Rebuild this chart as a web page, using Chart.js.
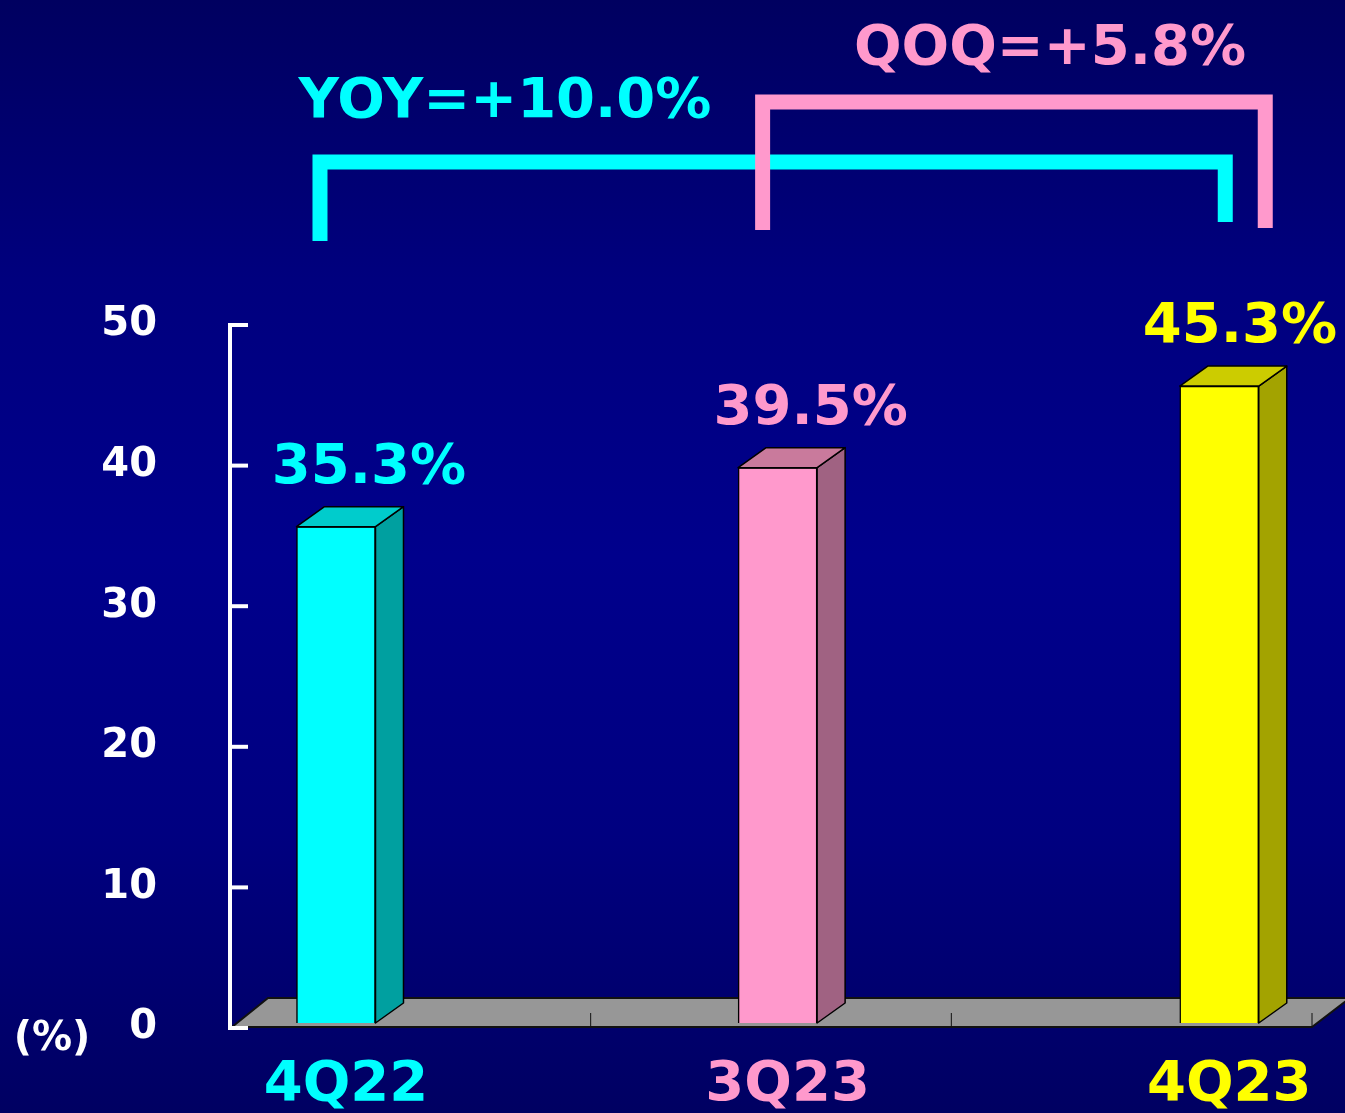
<!DOCTYPE html>
<html>
<head>
<meta charset="utf-8">
<script src="https://cdn.jsdelivr.net/npm/chart.js@4.4.0/dist/chart.umd.min.js"></script>
<style>
  html, body { margin: 0; padding: 0; overflow: hidden; }
  #wrap {
    width: 1345px; height: 1113px; position: relative;
    background: linear-gradient(to bottom, #000060 0%, #00007e 25%, #00008c 50%, #000080 75%, #000062 100%);
  }
  #barChart { display: block; }
</style>
</head>
<body>
<div id="wrap"><canvas id="barChart" width="1345" height="1113"></canvas></div>
<script>
// ---------- data ----------
const categories = ["4Q22", "3Q23", "4Q23"];
const ratios = [35.3, 39.5, 45.3];
const valueLabels = ["35.3%", "39.5%", "45.3%"];
const yTicks = [0, 10, 20, 30, 40, 50];
const yoyText = "YOY=+10.0%";
const qoqText = "QOQ=+5.8%";

// ---------- styles ----------
const frontColors = ["#00ffff", "#ff99cc", "#ffff00"];
const topColors = ["#00cccc", "#c97a9c", "#cccc00"];
const sideColors = ["#00a0a0", "#a06282", "#a3a300"];
const FONT = "'DejaVu Sans', sans-serif";
const DX = 28, DY = -20;          // bar depth
const FDX = 38, FDY = -29;        // floor depth
const FRONT = 5;                  // axis plane sits a little in front of the bars

const threeD = {
  id: "threeD",
  beforeDatasetsDraw(chart) {
    const { ctx, chartArea: a } = chart;
    const y0 = chart.scales.y.getPixelForValue(0) + FRONT - 1;
    ctx.save();
    ctx.beginPath();
    ctx.moveTo(a.left + 2, y0);
    ctx.lineTo(a.right, y0);
    ctx.lineTo(a.right + FDX, y0 + FDY);
    ctx.lineTo(a.left + FDX, y0 + FDY);
    ctx.closePath();
    ctx.fillStyle = "#979797";
    ctx.fill();
    ctx.strokeStyle = "#111";
    ctx.lineWidth = 2;
    ctx.stroke();
    // category separators on the front edge
    ctx.lineWidth = 1;
    for (let i = 1; i <= 3; i++) {
      const x = a.left + i * (a.right - a.left) / 3;
      ctx.beginPath();
      ctx.moveTo(x, y0);
      ctx.lineTo(x, y0 - 14);
      ctx.stroke();
    }
    ctx.restore();
  },
  afterDatasetsDraw(chart) {
    const { ctx } = chart;
    const bars = chart.getDatasetMeta(0).data;
    ctx.save();
    ctx.strokeStyle = "#000";
    ctx.lineWidth = 1.5;
    ctx.lineJoin = "round";
    bars.forEach((b, i) => {
      const l = b.x - b.width / 2, r = b.x + b.width / 2;
      // side
      ctx.beginPath();
      ctx.moveTo(r, b.y);
      ctx.lineTo(r + DX, b.y + DY);
      ctx.lineTo(r + DX, b.base + DY);
      ctx.lineTo(r, b.base);
      ctx.closePath();
      ctx.fillStyle = sideColors[i];
      ctx.fill();
      ctx.stroke();
      // top
      ctx.beginPath();
      ctx.moveTo(l, b.y);
      ctx.lineTo(l + DX, b.y + DY);
      ctx.lineTo(r + DX, b.y + DY);
      ctx.lineTo(r, b.y);
      ctx.closePath();
      ctx.fillStyle = topColors[i];
      ctx.fill();
      ctx.stroke();
      // value label
      ctx.font = `bold 56px ${FONT}`;
      ctx.textAlign = "center";
      ctx.textBaseline = "alphabetic";
      ctx.fillStyle = frontColors[i];
      const w = ctx.measureText(valueLabels[i]).width;
      let cx = b.x + 33;
      cx = Math.min(cx, chart.width - 8 - w / 2);
      ctx.fillText(valueLabels[i], cx, b.y - 44);
    });
    ctx.restore();
  },
  afterDraw(chart) {
    const { ctx, chartArea: a, scales } = chart;
    const ys = scales.y, xs = scales.x;
    ctx.save();
    // y axis line + inward ticks
    ctx.strokeStyle = "#fff";
    ctx.lineWidth = 4;
    ctx.beginPath();
    ctx.moveTo(a.left, ys.getPixelForValue(50) + FRONT - 2);
    ctx.lineTo(a.left, ys.getPixelForValue(0) + FRONT + 2);
    ctx.stroke();
    yTicks.forEach(t => {
      const y = ys.getPixelForValue(t) + FRONT;
      ctx.beginPath();
      ctx.moveTo(a.left - 2, y);
      ctx.lineTo(a.left + 18, y);
      ctx.stroke();
    });
    // unit
    ctx.fillStyle = "#fff";
    ctx.font = `bold 40px ${FONT}`;
    ctx.textAlign = "center";
    ctx.textBaseline = "middle";
    ctx.fillText("(%)", 52, ys.getPixelForValue(0) + FRONT + 12);

    // category labels
    ctx.font = `bold 56px ${FONT}`;
    ctx.textBaseline = "alphabetic";
    categories.forEach((c, i) => {
      const w = ctx.measureText(c).width;
      let cx = xs.getPixelForValue(i) + 10;
      cx = Math.min(cx, chart.width - 20 - w / 2);
      ctx.fillStyle = frontColors[i];
      ctx.fillText(c, cx, 1100);
    });

    // brackets
    const x0 = xs.getPixelForValue(0), x1 = xs.getPixelForValue(1), x2 = xs.getPixelForValue(2);
    ctx.lineWidth = 15;
    ctx.lineCap = "butt";
    ctx.lineJoin = "miter";
    ctx.strokeStyle = "#00ffff";
    ctx.beginPath();
    ctx.moveTo(x0 - 16, 241);
    ctx.lineTo(x0 - 16, 162);
    ctx.lineTo(x2 + 6, 162);
    ctx.lineTo(x2 + 6, 222);
    ctx.stroke();
    ctx.strokeStyle = "#ff99cc";
    ctx.beginPath();
    ctx.moveTo(x1 - 15, 230);
    ctx.lineTo(x1 - 15, 102);
    ctx.lineTo(x2 + 46, 102);
    ctx.lineTo(x2 + 46, 228);
    ctx.stroke();

    ctx.font = `bold 56px ${FONT}`;
    ctx.textAlign = "center";
    ctx.fillStyle = "#00ffff";
    ctx.fillText(yoyText, 505, 117);
    ctx.fillStyle = "#ff99cc";
    ctx.fillText(qoqText, 1050, 64);
    ctx.restore();
  }
};

new Chart(document.getElementById("barChart"), {
  type: "bar",
  data: {
    datasets: [{
      label: "Ratio",
      data: ratios.map((v, i) => ({ x: i, y: v })),
      backgroundColor: frontColors,
      borderColor: "#000",
      borderWidth: 1.5,
      barThickness: 79
    }]
  },
  options: {
    responsive: false,
    animation: false,
    layout: { autoPadding: false, padding: { top: 320, bottom: 90, left: 0, right: 33 } },
    plugins: { legend: { display: false }, tooltip: { enabled: false } },
    scales: {
      x: { type: "linear", min: -0.24, max: 2.21, offset: false, display: false },
      y: {
        min: 0, max: 50,
        ticks: {
          stepSize: 10, color: "#fff", padding: 73, labelOffset: FRONT,
          font: { family: FONT, size: 40, weight: "bold", lineHeight: 0.8 }
        },
        grid: { display: false, drawTicks: false },
        border: { display: false },
        afterFit(s) { s.width = 230; }
      }
    }
  },
  plugins: [threeD]
});
</script>
</body>
</html>
